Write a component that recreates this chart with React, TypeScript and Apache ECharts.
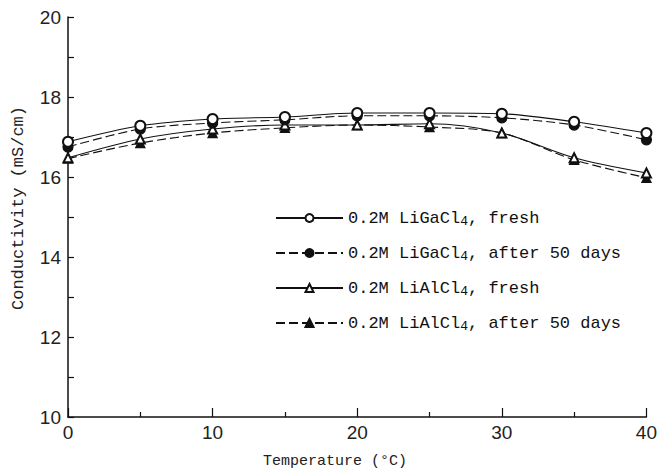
import React, { useEffect, useRef } from "react";
import * as echarts from "echarts";

const temperatures = [0, 5, 10, 15, 20, 25, 30, 35, 40];
const gaFresh = [16.88, 17.28, 17.45, 17.5, 17.6, 17.6, 17.58, 17.38, 17.1];
const gaAged = [16.75, 17.2, 17.35, 17.43, 17.53, 17.53, 17.48, 17.3, 16.93];
const alFresh = [16.48, 16.95, 17.2, 17.3, 17.3, 17.33, 17.1, 16.48, 16.1];
const alAged = [16.46, 16.85, 17.1, 17.23, 17.3, 17.25, 17.1, 16.43, 15.98];
const seriesNames = [
  "0.2M LiGaCl4, fresh",
  "0.2M LiGaCl4, after 50 days",
  "0.2M LiAlCl4, fresh",
  "0.2M LiAlCl4, after 50 days",
];
const xTitle = "Temperature (°C)";
const yTitle = "Conductivity (mS/cm)";

const INK = "#111";
const MONO = "'Liberation Mono', 'DejaVu Sans Mono', monospace";
const NARROW = "'Liberation Sans Narrow', 'Liberation Sans', Arial, sans-serif";

function pairs(vals: number[]) {
  return temperatures.map((t, i) => [t, vals[i]]);
}

export default function App() {
  const ref = useRef<HTMLDivElement>(null);
  useEffect(() => {
    document.body.style.margin = "0";
    if (!ref.current) return;
    const chart = echarts.init(ref.current, undefined, { renderer: "svg" });
    const mk = (
      name: string,
      vals: number[],
      symbol: string,
      size: number,
      dashed: boolean,
      z: number
    ) => ({
      name,
      type: "line",
      data: pairs(vals),
      smooth: 0.3,
      symbol,
      symbolSize: size,
      z,
      lineStyle: { color: INK, width: 1.1, type: dashed ? [9, 4] : "solid" },
      itemStyle: { color: INK, borderColor: INK, borderWidth: 1.3 },
    });
    chart.setOption({
      animation: false,
      backgroundColor: "#fff",
      grid: { left: 68, right: 10, top: 17, bottom: 56 },
      xAxis: {
        type: "value",
        min: 0,
        max: 40,
        interval: 10,
        axisLine: { lineStyle: { color: INK, width: 1.5 } },
        axisTick: { show: true, inside: true, length: 9, lineStyle: { color: INK, width: 1.2 } },
        minorTick: { show: true, splitNumber: 2, length: 5, lineStyle: { color: INK, width: 1.2 } },
        axisLabel: { color: "#222", fontFamily: NARROW, fontSize: 19, margin: 6 },
        splitLine: { show: false },
      },
      yAxis: {
        type: "value",
        min: 10,
        max: 20,
        interval: 2,
        axisLine: { show: true, lineStyle: { color: INK, width: 1.5 } },
        axisTick: { show: true, inside: true, length: 6, lineStyle: { color: INK, width: 1.2 } },
        minorTick: { show: true, splitNumber: 2, length: 6, lineStyle: { color: INK, width: 1.2 } },
        axisLabel: { color: "#222", fontFamily: NARROW, fontSize: 19, margin: 7 },
        splitLine: { show: false },
      },
      legend: {
        orient: "vertical",
        left: 270,
        top: 203,
        itemWidth: 67,
        itemHeight: 10,
        itemGap: 15,
        data: seriesNames,
        formatter: (n: string) => n.replace("Cl4", "Cl{sub|4}"),
        textStyle: {
          color: INK,
          fontFamily: MONO,
          fontSize: 17,
          lineHeight: 20,
          rich: {
            sub: { fontFamily: MONO, fontSize: 13, color: INK, padding: [7, 0, 0, 0] },
          },
        },
      },
      graphic: [
        {
          type: "text",
          x: 335,
          y: 461,
          style: {
            text: xTitle,
            fontFamily: MONO,
            fontSize: 15,
            fill: "#222",
            align: "center",
            verticalAlign: "middle",
          },
        },
        {
          type: "text",
          x: 18,
          y: 208,
          rotation: Math.PI / 2,
          style: {
            text: yTitle,
            fontFamily: MONO,
            fontSize: 17,
            fill: "#222",
            align: "center",
            verticalAlign: "middle",
          },
        },
      ],
      series: [
        mk(seriesNames[3], alAged, "triangle", 9, true, 2),
        mk(seriesNames[2], alFresh, "emptyTriangle", 9, false, 3),
        mk(seriesNames[1], gaAged, "circle", 10, true, 4),
        mk(seriesNames[0], gaFresh, "emptyCircle", 10, false, 5),
      ],
    });
    return () => chart.dispose();
  }, []);
  return (
    <div
      ref={ref}
      style={{ width: 660, height: 473, position: "absolute", left: 0, top: 0 }}
    />
  );
}
